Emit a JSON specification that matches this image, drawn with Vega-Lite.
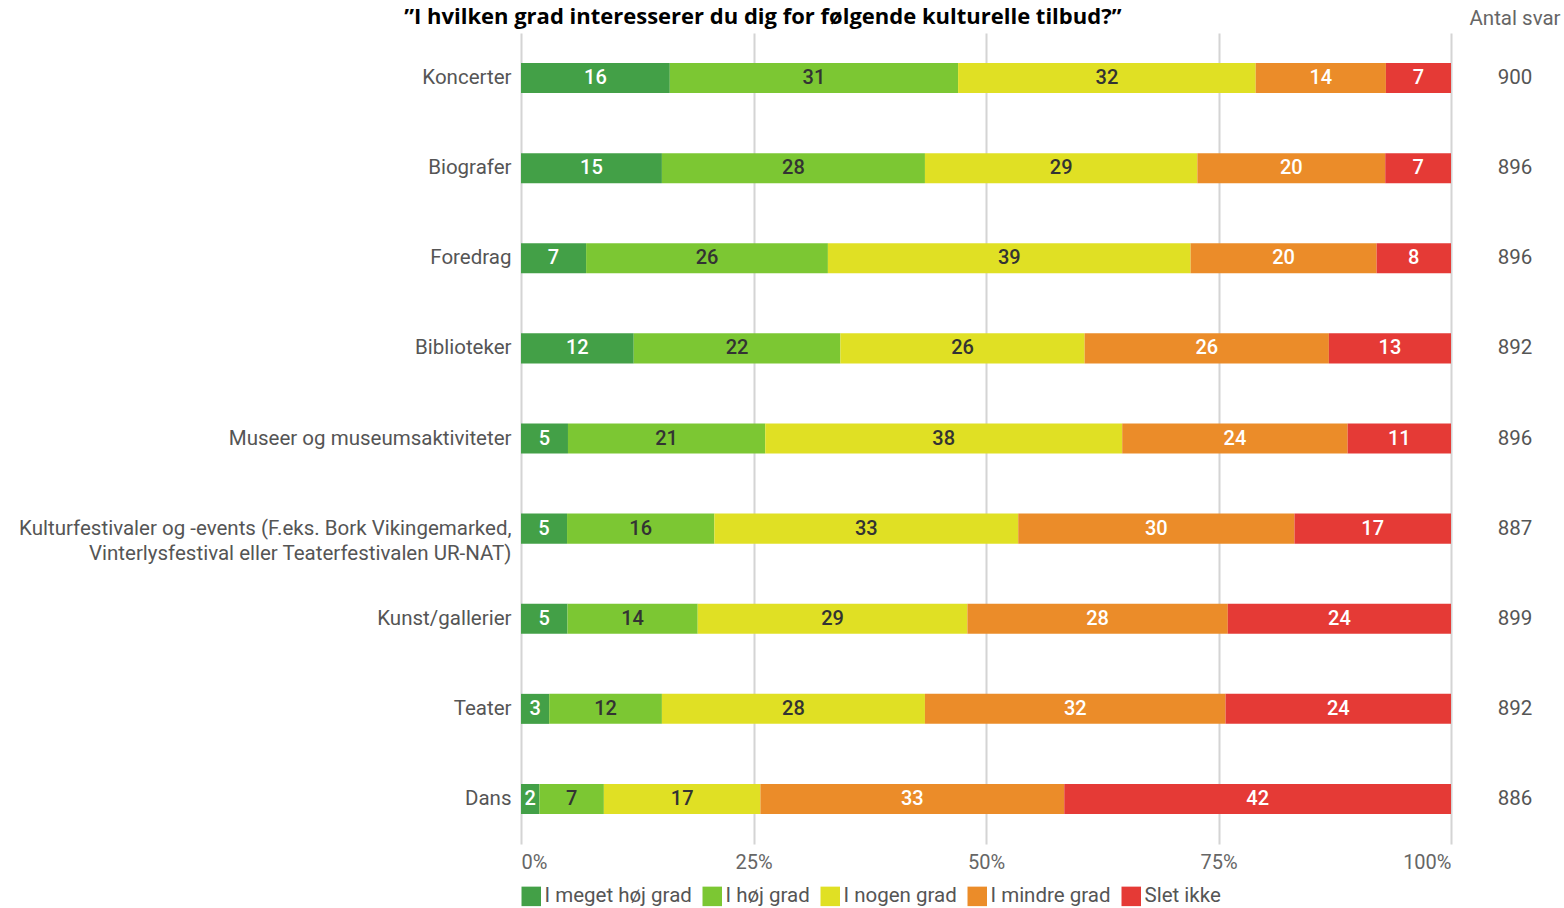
{
  "$schema": "https://vega.github.io/schema/vega-lite/v6.json",
  "padding": {"left": 18, "top": 6, "right": 2, "bottom": 1},
  "bounds": "flush",
  "spacing": 24,
  "config": {"font": "Roboto", "view": {"stroke": null}},
  "datasets": {
    "bars": [
      {"category": "Koncerter", "level": "I meget høj grad", "value": 16},
      {"category": "Koncerter", "level": "I høj grad", "value": 31},
      {"category": "Koncerter", "level": "I nogen grad", "value": 32},
      {"category": "Koncerter", "level": "I mindre grad", "value": 14},
      {"category": "Koncerter", "level": "Slet ikke", "value": 7},
      {"category": "Biografer", "level": "I meget høj grad", "value": 15},
      {"category": "Biografer", "level": "I høj grad", "value": 28},
      {"category": "Biografer", "level": "I nogen grad", "value": 29},
      {"category": "Biografer", "level": "I mindre grad", "value": 20},
      {"category": "Biografer", "level": "Slet ikke", "value": 7},
      {"category": "Foredrag", "level": "I meget høj grad", "value": 7},
      {"category": "Foredrag", "level": "I høj grad", "value": 26},
      {"category": "Foredrag", "level": "I nogen grad", "value": 39},
      {"category": "Foredrag", "level": "I mindre grad", "value": 20},
      {"category": "Foredrag", "level": "Slet ikke", "value": 8},
      {"category": "Biblioteker", "level": "I meget høj grad", "value": 12},
      {"category": "Biblioteker", "level": "I høj grad", "value": 22},
      {"category": "Biblioteker", "level": "I nogen grad", "value": 26},
      {"category": "Biblioteker", "level": "I mindre grad", "value": 26},
      {"category": "Biblioteker", "level": "Slet ikke", "value": 13},
      {"category": "Museer og museumsaktiviteter", "level": "I meget høj grad", "value": 5},
      {"category": "Museer og museumsaktiviteter", "level": "I høj grad", "value": 21},
      {"category": "Museer og museumsaktiviteter", "level": "I nogen grad", "value": 38},
      {"category": "Museer og museumsaktiviteter", "level": "I mindre grad", "value": 24},
      {"category": "Museer og museumsaktiviteter", "level": "Slet ikke", "value": 11},
      {"category": "Kulturfestivaler og -events (F.eks. Bork Vikingemarked, Vinterlysfestival eller Teaterfestivalen UR-NAT)", "level": "I meget høj grad", "value": 5},
      {"category": "Kulturfestivaler og -events (F.eks. Bork Vikingemarked, Vinterlysfestival eller Teaterfestivalen UR-NAT)", "level": "I høj grad", "value": 16},
      {"category": "Kulturfestivaler og -events (F.eks. Bork Vikingemarked, Vinterlysfestival eller Teaterfestivalen UR-NAT)", "level": "I nogen grad", "value": 33},
      {"category": "Kulturfestivaler og -events (F.eks. Bork Vikingemarked, Vinterlysfestival eller Teaterfestivalen UR-NAT)", "level": "I mindre grad", "value": 30},
      {"category": "Kulturfestivaler og -events (F.eks. Bork Vikingemarked, Vinterlysfestival eller Teaterfestivalen UR-NAT)", "level": "Slet ikke", "value": 17},
      {"category": "Kunst/gallerier", "level": "I meget høj grad", "value": 5},
      {"category": "Kunst/gallerier", "level": "I høj grad", "value": 14},
      {"category": "Kunst/gallerier", "level": "I nogen grad", "value": 29},
      {"category": "Kunst/gallerier", "level": "I mindre grad", "value": 28},
      {"category": "Kunst/gallerier", "level": "Slet ikke", "value": 24},
      {"category": "Teater", "level": "I meget høj grad", "value": 3},
      {"category": "Teater", "level": "I høj grad", "value": 12},
      {"category": "Teater", "level": "I nogen grad", "value": 28},
      {"category": "Teater", "level": "I mindre grad", "value": 32},
      {"category": "Teater", "level": "Slet ikke", "value": 24},
      {"category": "Dans", "level": "I meget høj grad", "value": 2},
      {"category": "Dans", "level": "I høj grad", "value": 7},
      {"category": "Dans", "level": "I nogen grad", "value": 17},
      {"category": "Dans", "level": "I mindre grad", "value": 33},
      {"category": "Dans", "level": "Slet ikke", "value": 42}
    ],
    "counts": [
      {"category": "Koncerter", "n": 900},
      {"category": "Biografer", "n": 896},
      {"category": "Foredrag", "n": 896},
      {"category": "Biblioteker", "n": 892},
      {"category": "Museer og museumsaktiviteter", "n": 896},
      {"category": "Kulturfestivaler og -events (F.eks. Bork Vikingemarked, Vinterlysfestival eller Teaterfestivalen UR-NAT)", "n": 887},
      {"category": "Kunst/gallerier", "n": 899},
      {"category": "Teater", "n": 892},
      {"category": "Dans", "n": 886}
    ]
  },
  "hconcat": [
    {
      "width": 930,
      "height": 811,
      "title": {
        "text": "”I hvilken grad interesserer du dig for følgende kulturelle tilbud?”",
        "font": "Open Sans",
        "fontSize": 22,
        "fontWeight": "bold",
        "color": "#000000",
        "anchor": "middle",
        "frame": "bounds",
        "offset": 4,
        "dx": 28
      },
      "data": {"name": "bars"},
      "transform": [
        {"calculate": "indexof(['I meget høj grad','I høj grad','I nogen grad','I mindre grad','Slet ikke'], datum.level)", "as": "rank"},
        {"stack": "value", "groupby": ["category"], "sort": [{"field": "rank", "order": "ascending"}], "offset": "normalize", "as": ["v0", "v1"]},
        {"calculate": "(datum.v0 + datum.v1) / 2", "as": "mid"}
      ],
      "encoding": {
        "y": {
          "field": "category",
          "type": "nominal",
          "sort": ["Koncerter", "Biografer", "Foredrag", "Biblioteker", "Museer og museumsaktiviteter", "Kulturfestivaler og -events (F.eks. Bork Vikingemarked, Vinterlysfestival eller Teaterfestivalen UR-NAT)", "Kunst/gallerier", "Teater", "Dans"],
          "scale": {"paddingInner": 0.667, "paddingOuter": 0.333},
          "axis": {
            "title": null,
            "domain": false,
            "ticks": false,
            "labelFontSize": 20.5,
            "labelColor": "#555555",
            "labelPadding": 10,
            "labelLimit": 700,
            "labelLineHeight": 25,
            "labelExpr": "indexof(datum.label, 'Bork') > 0 ? ['Kulturfestivaler og -events (F.eks. Bork Vikingemarked,', 'Vinterlysfestival eller Teaterfestivalen UR-NAT)'] : datum.label"
          }
        }
      },
      "layer": [
        {
          "mark": {"type": "bar"},
          "encoding": {
            "x": {
              "field": "v0",
              "type": "quantitative",
              "scale": {"domain": [0, 1], "nice": false},
              "axis": {
                "title": null,
                "format": ".0%",
                "values": [0, 0.25, 0.5, 0.75, 1],
                "domain": false,
                "ticks": false,
                "grid": true,
                "gridColor": "#d4d4d4",
                "gridWidth": 2,
                "labelFlush": true,
                "labelFontSize": 20,
                "labelColor": "#666666",
                "labelPadding": 8
              }
            },
            "x2": {"field": "v1"},
            "color": {
              "field": "level",
              "type": "nominal",
              "scale": {
                "domain": ["I meget høj grad", "I høj grad", "I nogen grad", "I mindre grad", "Slet ikke"],
                "range": ["#43a047", "#7cc733", "#e0e024", "#eb8c29", "#e53a36"]
              },
              "legend": {
                "orient": "bottom",
                "direction": "horizontal",
                "title": null,
                "symbolType": "square",
                "symbolSize": 380,
                "symbolStrokeWidth": 0,
                "labelFontSize": 20.5,
                "labelColor": "#555555",
                "labelOffset": 3,
                "columnPadding": 10,
                "offset": 14
              }
            }
          }
        },
        {
          "mark": {"type": "text", "fontSize": 20, "fontWeight": 500},
          "encoding": {
            "x": {"field": "mid", "type": "quantitative"},
            "text": {"field": "value", "type": "quantitative"},
            "color": {
              "condition": {"test": "datum.level == 'I meget høj grad' || datum.level == 'I mindre grad' || datum.level == 'Slet ikke'", "value": "#ffffff"},
              "value": "#333333"
            }
          }
        }
      ]
    },
    {
      "width": 80,
      "height": 811,
      "title": {"text": "Antal svar", "fontSize": 20.5, "fontWeight": "normal", "color": "#666666", "offset": 4, "anchor": "middle"},
      "data": {"name": "counts"},
      "mark": {"type": "text", "fontSize": 20.5, "color": "#555555"},
      "encoding": {
        "y": {
          "field": "category",
          "type": "nominal",
          "sort": ["Koncerter", "Biografer", "Foredrag", "Biblioteker", "Museer og museumsaktiviteter", "Kulturfestivaler og -events (F.eks. Bork Vikingemarked, Vinterlysfestival eller Teaterfestivalen UR-NAT)", "Kunst/gallerier", "Teater", "Dans"],
          "scale": {"paddingInner": 0.667, "paddingOuter": 0.333},
          "axis": null
        },
        "text": {"field": "n", "type": "quantitative"}
      }
    }
  ]
}
